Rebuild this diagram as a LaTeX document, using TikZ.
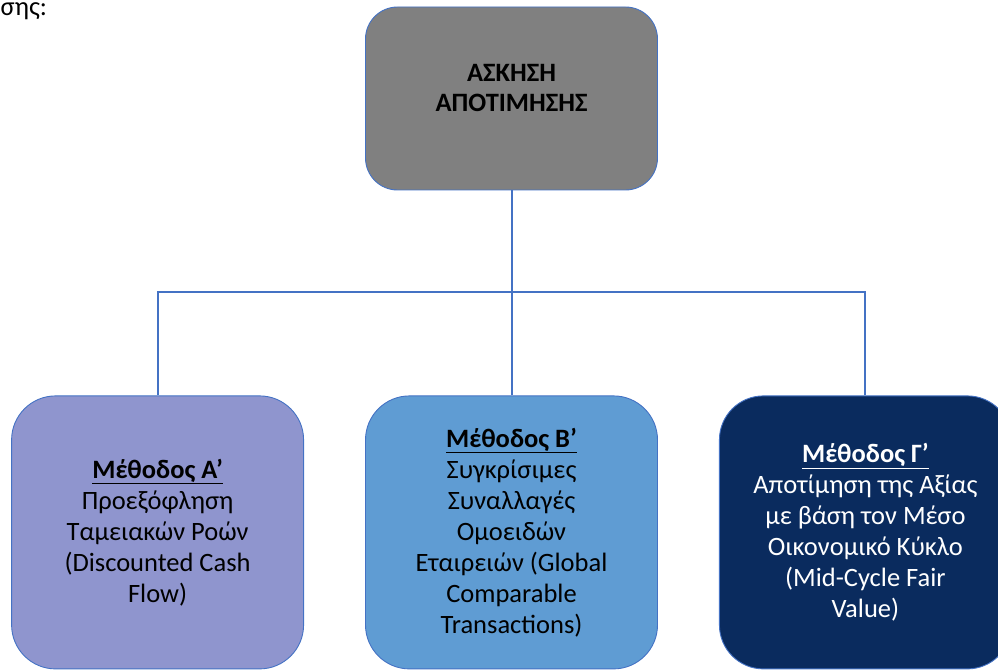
\documentclass[tikz,border=0pt]{standalone}
\usepackage{fontspec}
\setmainfont{Carlito}
\usetikzlibrary{positioning}
\definecolor{edge}{HTML}{4472C4}
\definecolor{grey}{HTML}{808080}
\definecolor{lilac}{HTML}{8F95CE}
\definecolor{sky}{HTML}{5F9CD3}
\definecolor{navy}{HTML}{0A2B5E}
\tikzstyle{B} = [draw=edge,line width=0.9pt,rounded corners=44pt,minimum width=292pt,minimum height=273pt,align=center,font=\fontsize{26.5}{31}\selectfont]
\tikzstyle{T} = [B,fill=grey,rounded corners=32pt,minimum height=183pt,font=\fontsize{26.5}{30}\selectfont\bfseries]
\tikzstyle{link} = [draw=edge,line width=2pt]

\begin{document}
\begin{tikzpicture}[x=1pt,y=-1pt]
  \useasboundingbox (0,0) rectangle (998,671);
  \node [anchor=base west,inner sep=0pt,font=\fontsize{26.5}{31}\selectfont] (n0) at (0.5,16) {σης:};

  \node [T] (n1) at (511.5,98.5) {ΑΣΚΗΣΗ\\ΑΠΟΤΙΜΗΣΗΣ\\[-8pt]\mbox{}};
  \node [B,fill=sky,below=205pt of n1] (n3) {\underline{\textbf{Μέθοδος Β’}}\\Συγκρίσιμες\\Συναλλαγές\\Ομοειδών\\Εταιρειών (Global\\Comparable\\Transactions)};
  \node [B,fill=lilac,left=61pt of n3] (n2) {\underline{\textbf{Μέθοδος Α’}}\\Προεξόφληση\\Ταμειακών Ροών\\(Discounted Cash\\Flow)};
  \node [B,fill=navy,text=white,right=61pt of n3] (n4) {\underline{\textbf{Μέθοδος Γ’}}\\Αποτίμηση της Αξίας\\με βάση τον Μέσο\\Οικονομικό Κύκλο\\(Mid-Cycle Fair\\Value)};

  \coordinate (j) at (511.5,292);
  \draw [link] (n1.south) -- (j);
  \draw [link] (n2.north) |- (j) -| (n4.north);
  \draw [link] (n3.north) -- (j);
\end{tikzpicture}
\end{document}
